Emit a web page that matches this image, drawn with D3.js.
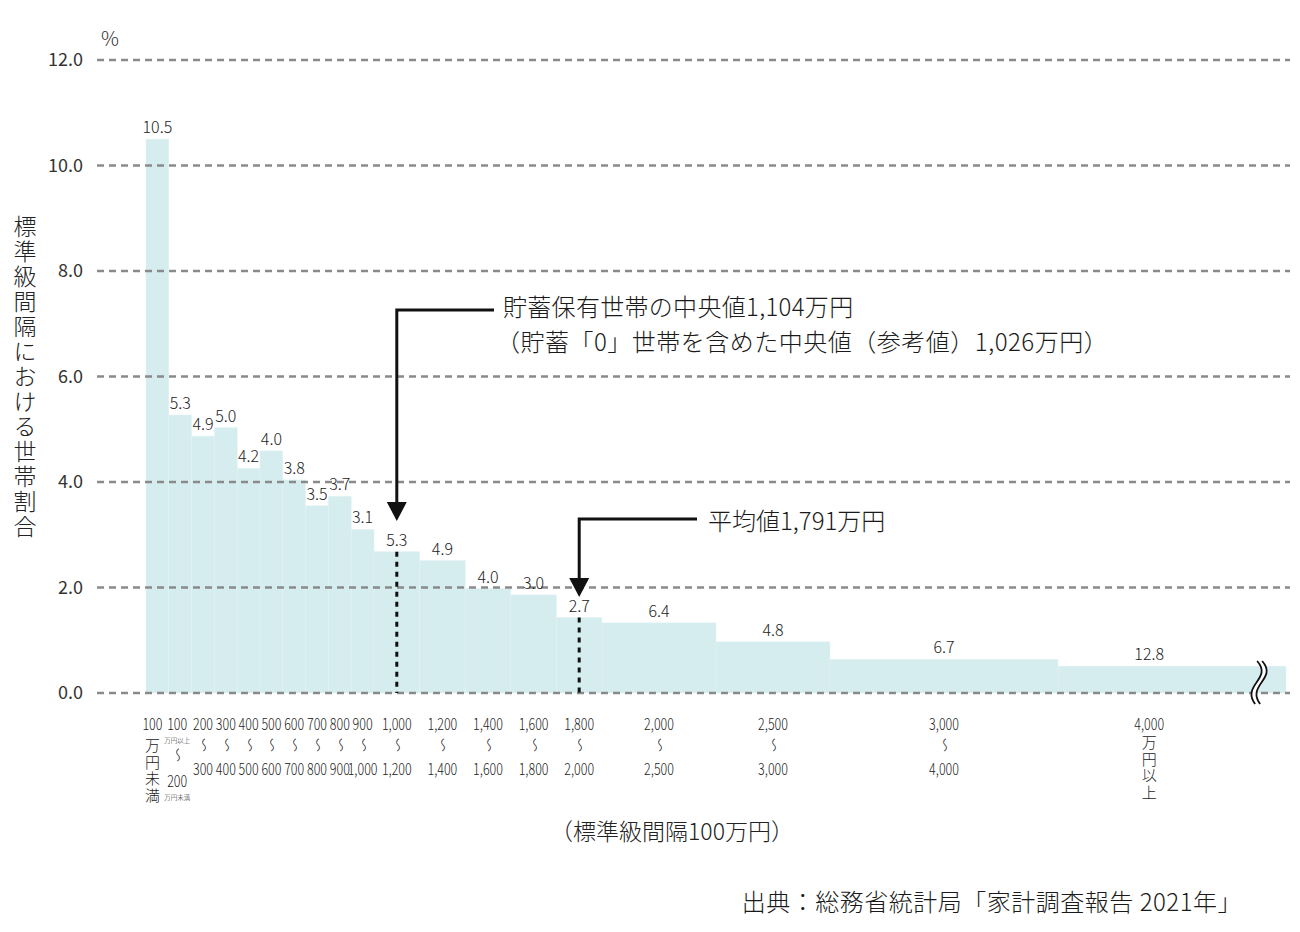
<!DOCTYPE html>
<html>
<head>
<meta charset="utf-8">
<script src="https://cdn.jsdelivr.net/npm/d3@7"></script>
<style>
body{margin:0;background:#fff}
text{font-family:"Noto Sans CJK JP","Noto Sans",sans-serif;font-weight:300}
</style>
</head>
<body>
<svg id="chart" width="1300" height="932"></svg>
<script>
// class intervals, in 万円 (last class is open ended, drawn cut off with a break mark)
var lower = [0,100,200,300,400,500,600,700,800,900,1000,1200,1400,1600,1800,2000,2500,3000,4000]
var upper = [100,200,300,400,500,600,700,800,900,1000,1200,1400,1600,1800,2000,2500,3000,4000,5000]
// share of households per class (%), the printed labels
var shares = [10.5,5.3,4.9,5.0,4.2,4.0,3.8,3.5,3.7,3.1,5.3,4.9,4.0,3.0,2.7,6.4,4.8,6.7,12.8]
// bar heights as drawn: share per standard class interval of 100万円
var density = [10.5,5.27,4.87,5.03,4.26,4.59,4.04,3.55,3.73,3.1,2.68,2.51,1.98,1.86,1.43,1.33,0.97,0.64,0.51]

var topLabels = ["100","100","200","300","400","500","600","700","800","900","1,000","1,200","1,400","1,600","1,800","2,000","2,500","3,000","4,000"]
var bottomLabels = ["","200","300","400","500","600","700","800","900","1,000","1,200","1,400","1,600","1,800","2,000","2,500","3,000","4,000",""]
var yTicks = [0,2,4,6,8,10,12]

var breakAt = 4880        // where the open class is cut
var openLabelAt = 4400    // label position of the open class
var medianBin = 10, meanBin = 14

var medianText = ["貯蓄保有世帯の中央値1,104万円","（貯蓄「0」世帯を含めた中央値（参考値）1,026万円）"]
var meanText = "平均値1,791万円"

var svg = d3.select("#chart")

var x = d3.scaleLinear().domain([0,5000]).range([146,1286])
var y = d3.scaleLinear().domain([0,12]).range([693,60])

var idx = d3.range(lower.length)
var mid = function(i){ return i==lower.length-1 ? openLabelAt : (lower[i]+upper[i])/2 }

// bars
svg.append("g").selectAll("rect")
  .data(idx)
  .join("rect")
  .attr("x", i=> x(lower[i]))
  .attr("width", i=> x(upper[i])-x(lower[i]))
  .attr("y", i=> y(density[i]))
  .attr("height", i=> y(0)-y(density[i]))
  .attr("fill","#d6edf0")
  .attr("stroke","#e2f2f4")
  .attr("stroke-width",0.5)

// dashed grid lines on top of the bars
svg.append("g").selectAll("line")
  .data(yTicks)
  .join("line")
  .attr("x1",97).attr("x2",1290)
  .attr("y1",d=>y(d)).attr("y2",d=>y(d))
  .attr("stroke","#8a8a8a")
  .attr("stroke-width",2.5)
  .attr("stroke-dasharray","7,5")

// y axis labels
svg.append("g")
  .attr("transform","translate(97,0)")
  .call(d3.axisLeft(y).tickValues(yTicks).tickFormat(d3.format(".1f")).tickSize(0).tickPadding(14))
  .call(g=>g.select(".domain").remove())
  .call(g=>g.selectAll("text").style("font-size","18px").style("font-weight",400).style("fill","#333"))

svg.append("text").text("%")
  .attr("x",110).attr("y",37)
  .attr("text-anchor","middle").attr("dominant-baseline","central")
  .style("font-size","20px").style("fill","#333")

svg.append("text").text("標準級間隔における世帯割合")
  .attr("x",25).attr("y",377)
  .attr("text-anchor","middle")
  .style("writing-mode","vertical-rl")
  .style("font-size","23px").style("letter-spacing","2px").style("fill","#222")

// break mark on the open class
var brk = x(breakAt)
function wave(bx){
  return "M"+(bx+1)+",661 C"+(bx+9)+",670 "+(bx+5)+",676 "+bx+",683 S"+(bx-7)+",696 "+(bx-1)+",704"
}
svg.append("path").attr("d",wave(brk)).attr("fill","none").attr("stroke","#fff").attr("stroke-width",6)
svg.append("g").selectAll("path")
  .data([-2.5,2.5])
  .join("path")
  .attr("d",d=>wave(brk+d))
  .attr("fill","none").attr("stroke","#111").attr("stroke-width",1.8)

// value labels
svg.append("g").selectAll("text")
  .data(idx)
  .join("text")
  .attr("x", i=> x(mid(i)))
  .attr("y", i=> y(density[i])-6)
  .attr("text-anchor","middle")
  .style("font-size","16px").style("fill","#222")
  .text(i=> shares[i].toFixed(1))

// x labels
var xl = svg.append("g").selectAll("g")
  .data(idx)
  .join("g")
  .attr("transform", i=> "translate("+(x(mid(i)) - (i==0 ? 5 : i==1 ? 3 : 0))+",0)")

function digits(sel, yy, s){
  sel.append("text").text(s)
    .attr("y",yy).attr("text-anchor","middle").attr("dominant-baseline","central")
    .attr("transform","scale(0.78,1)")
    .style("font-size","16px").style("fill","#222")
}
function tilde(sel, yy){
  sel.append("text").text("〜")
    .attr("text-anchor","middle").attr("dominant-baseline","central")
    .attr("transform","translate(0,"+yy+") rotate(90) scale(1,-1)")
    .style("font-size","14px").style("fill","#222")
}
function vertical(sel, s, y0){
  sel.append("text").text(s)
    .attr("y",y0)
    .style("writing-mode","vertical-rl")
    .style("font-size","15px").style("letter-spacing","1.5px").style("fill","#222")
}
function tiny(sel, s, yy){
  sel.append("text").text(s)
    .attr("y",yy).attr("text-anchor","middle").attr("dominant-baseline","central")
    .style("font-size","6.5px").style("fill","#222")
}

xl.each(function(i){
  var g = d3.select(this)
  digits(g, 723, topLabels[i])
  if(i==0){
    vertical(g, "万円未満", 738)
  } else if(i==lower.length-1){
    vertical(g, "万円以上", 735)
  } else if(i==1){
    tiny(g, "万円以上", 739.5)
    tilde(g, 755)
    digits(g, 780, bottomLabels[i])
    tiny(g, "万円未満", 797)
  } else {
    tilde(g, 745)
    digits(g, 768, bottomLabels[i])
  }
})

svg.append("text").text("（標準級間隔100万円）")
  .attr("x",672).attr("y",830)
  .attr("text-anchor","middle").attr("dominant-baseline","central")
  .style("font-size","23px").style("fill","#222")

// median / mean markers
function marker(bin, elbowY, endX, tipY){
  var mx = x((lower[bin]+upper[bin])/2)
  svg.append("line")
    .attr("x1",mx).attr("x2",mx)
    .attr("y1",y(density[bin])).attr("y2",y(0))
    .attr("stroke","#111").attr("stroke-width",3).attr("stroke-dasharray","5,5")
  svg.append("path")
    .attr("d","M"+endX+","+elbowY+"H"+mx+"V"+(tipY-16))
    .attr("fill","none").attr("stroke","#111").attr("stroke-width",3)
  svg.append("path")
    .attr("d","M"+(mx-10)+","+(tipY-19)+"L"+(mx+10)+","+(tipY-19)+"L"+mx+","+tipY+"Z")
    .attr("fill","#111")
}
marker(medianBin, 310, 494, 521)
marker(meanBin, 519, 697, 597)

svg.append("g").selectAll("text")
  .data(medianText)
  .join("text")
  .attr("x",(d,k)=> k==0 ? 503 : 496)
  .attr("y",(d,k)=> 305+k*35)
  .attr("dominant-baseline","central")
  .style("font-size","24px").style("letter-spacing",(d,k)=> k==0 ? "0.3px" : "0.5px").style("fill","#1a1a1a")
  .text(d=>d)

svg.append("text").text(meanText)
  .attr("x",708).attr("y",519)
  .attr("dominant-baseline","central")
  .style("font-size","24px").style("fill","#1a1a1a")

svg.append("text").text("出典：総務省統計局「家計調査報告 2021年」")
  .attr("x",1242).attr("y",900)
  .attr("text-anchor","end").attr("dominant-baseline","central")
  .style("font-size","24px").style("letter-spacing","0.5px").style("fill","#1a1a1a")
</script>
</body>
</html>
